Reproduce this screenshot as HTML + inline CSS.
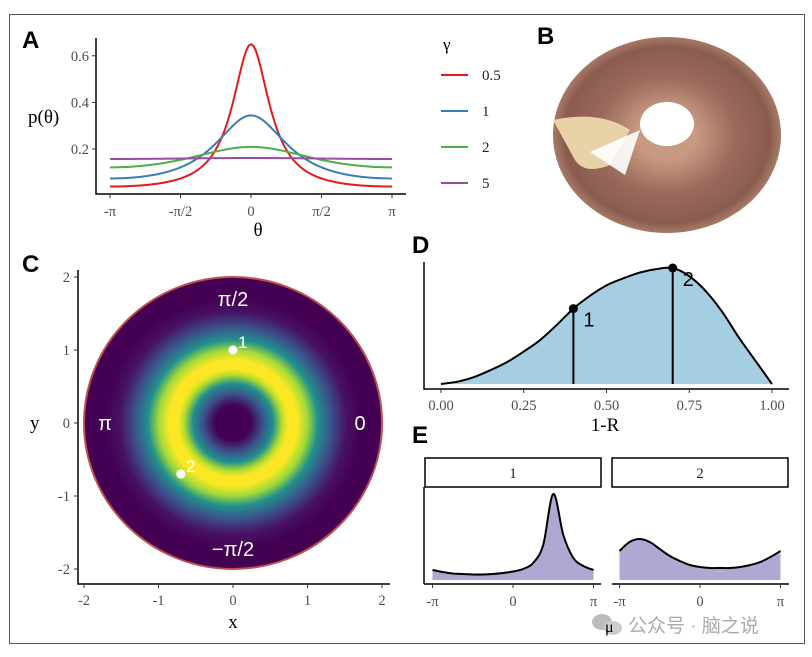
<!DOCTYPE html>
<html><head><meta charset="utf-8"><style>
html,body{margin:0;padding:0;background:#fff;}
svg{display:block;}
.tick{font-family:"Liberation Serif",serif;font-size:14.5px;fill:#4d4d4d;}
.lab{font-family:"Liberation Serif",serif;font-size:19px;fill:#000;}
.pl{font-family:"Liberation Sans",sans-serif;font-weight:bold;font-size:24px;fill:#000;}
</style></head><body>
<svg id="fig" width="812" height="657" viewBox="0 0 812 657" xmlns="http://www.w3.org/2000/svg">
<defs>
<radialGradient id="vir" cx="0.5" cy="0.5" r="0.5">
<stop offset="0" stop-color="#440154"/><stop offset="0.12" stop-color="#440154"/>
<stop offset="0.2" stop-color="#3b528b"/><stop offset="0.27" stop-color="#21908d"/>
<stop offset="0.33" stop-color="#b5de2b"/><stop offset="0.37" stop-color="#fde725"/>
<stop offset="0.43" stop-color="#fde725"/><stop offset="0.5" stop-color="#a0da39"/>
<stop offset="0.57" stop-color="#21918c"/><stop offset="0.66" stop-color="#3b528b"/>
<stop offset="0.76" stop-color="#471365"/><stop offset="0.85" stop-color="#440154"/>
<stop offset="1" stop-color="#440154"/></radialGradient>
<radialGradient id="cake" cx="0.5" cy="0.5" r="0.5">
<stop offset="0.25" stop-color="#c99a82"/><stop offset="0.6" stop-color="#9a6a5c"/>
<stop offset="0.9" stop-color="#8a5c50"/><stop offset="1" stop-color="#a77a66"/></radialGradient>
</defs>
<rect x="9.5" y="14.5" width="795" height="629" fill="none" stroke="#555" stroke-width="1"/>
<text class="pl" x="22" y="48">A</text>
<text class="pl" x="537" y="44">B</text>
<text class="pl" x="22" y="272">C</text>
<text class="pl" x="412" y="253">D</text>
<text class="pl" x="412" y="443">E</text>

<g id="pa"></g>
<g>
<ellipse cx="667" cy="135" rx="114" ry="98" fill="url(#cake)"/>
<path d="M553 120 Q600 110 630 130 L610 165 Q585 175 575 160 Z" fill="#e9d2a8"/>
<ellipse cx="667" cy="124" rx="27" ry="22" fill="#fff"/>
<path d="M590 152 L640 130 L625 175 Z" fill="#fff" opacity="0.9"/>
</g>
<g id="pc"></g>
<g id="pd"></g>
<g id="pe"></g>
<g>
<ellipse cx="602" cy="622" rx="10" ry="8" fill="#bbb"/><ellipse cx="613" cy="628" rx="9" ry="7" fill="#ccc"/>
<text x="605" y="632" font-family="Liberation Serif,serif" font-size="16" fill="#000">μ</text>
<text x="628" y="632" font-family="'Liberation Sans','Noto Sans CJK SC',sans-serif" font-size="19" fill="#aaa">公众号 · 脑之说</text>
</g>
</svg>
<script>
const NS="http://www.w3.org/2000/svg";
function mk(p,t,a,txt){const e=document.createElementNS(NS,t);for(const k in a)e.setAttribute(k,a[k]);if(txt!==undefined)e.textContent=txt;p.appendChild(e);return e;}
function spline(pts){let d="M"+pts[0][0]+" "+pts[0][1];for(let i=0;i<pts.length-1;i++){const p0=pts[Math.max(0,i-1)],p1=pts[i],p2=pts[i+1],p3=pts[Math.min(pts.length-1,i+2)];
d+=" C"+(p1[0]+(p2[0]-p0[0])/6)+" "+(p1[1]+(p2[1]-p0[1])/6)+" "+(p2[0]-(p3[0]-p1[0])/6)+" "+(p2[1]-(p3[1]-p1[1])/6)+" "+p2[0]+" "+p2[1];}return d;}

/* ---------- Panel A data ---------- */
const gammas=[0.5,1,2,5];
const gammaLabels=["0.5","1","2","5"];
const gammaColors=["#e41a1c","#377eb8","#4daf4a","#984ea3"];
const aYTicks=[0.2,0.4,0.6];
const aXTickLabels=["-π","-π/2","0","π/2","π"];
const aXTickVals=[-Math.PI,-Math.PI/2,0,Math.PI/2,Math.PI];
(function(){
const g=document.getElementById('pa');
const X=v=>251+v/Math.PI*141, Y=v=>195.6-v*233;
let e=mk(g,'path',{d:"M96 38 V194 H406",fill:"none",stroke:"#000","stroke-width":1.5});

aYTicks.forEach(v=>{mk(g,'line',{x1:92,x2:96,y1:Y(v),y2:Y(v),stroke:"#333"});
e=mk(g,'text',{class:'tick',x:89,y:Y(v)+5,'text-anchor':'end'},v.toFixed(1));
});
aXTickVals.forEach((v,i)=>{mk(g,'line',{x1:X(v),x2:X(v),y1:194,y2:198,stroke:"#333"});
e=mk(g,'text',{class:'tick',x:X(v),y:216,'text-anchor':'middle'},aXTickLabels[i]);
});
e=mk(g,'text',{class:'lab',x:258,y:236,'text-anchor':'middle'},'θ');
e=mk(g,'text',{class:'lab',x:28,y:123},'p(θ)');
gammas.forEach((gm,i)=>{const r=Math.exp(-gm);const pts=[];
for(let k=0;k<=120;k++){const t=-Math.PI+k*2*Math.PI/120;const p=(1-r*r)/(2*Math.PI*(1+r*r-2*r*Math.cos(t)));pts.push(X(t).toFixed(2)+","+Y(p).toFixed(2));}
e=mk(g,'polyline',{points:pts.join(" "),fill:"none",stroke:gammaColors[i],"stroke-width":2});

const ly=75+36*i;
e=mk(g,'line',{x1:441,x2:468,y1:ly,y2:ly,stroke:gammaColors[i],"stroke-width":2});

e=mk(g,'text',{class:'tick',x:482,y:ly+5,style:'font-size:15px;fill:#222'},gammaLabels[i]);
});
e=mk(g,'text',{class:'lab',x:443,y:50,style:'font-size:17px'},'γ');
})();

/* ---------- Panel C data ---------- */
const cTicks=[-2,-1,0,1,2];
const cPointsX=[0,-0.7];
const cPointsY=[1,-0.7];
const cPointLabels=["1","2"];
(function(){
const g=document.getElementById('pc');
const X=v=>233+v*74.5, Y=v=>423-v*73;
let e=mk(g,'ellipse',{cx:X(0),cy:Y(0),rx:X(2)-X(0),ry:Y(0)-Y(2),fill:"url(#vir)",stroke:"#c0504d","stroke-width":2});

e=mk(g,'path',{d:"M78 270 V584 H390",fill:"none",stroke:"#000","stroke-width":1.5});

cTicks.forEach(v=>{mk(g,'line',{x1:X(v),x2:X(v),y1:584,y2:588,stroke:"#333"});
e=mk(g,'text',{class:'tick',x:X(v),y:605,'text-anchor':'middle'},v);
mk(g,'line',{x1:74,x2:78,y1:Y(v),y2:Y(v),stroke:"#333"});
e=mk(g,'text',{class:'tick',x:70,y:Y(v)+5,'text-anchor':'end'},v);});
e=mk(g,'text',{class:'lab',x:233,y:628,'text-anchor':'middle'},'x');
e=mk(g,'text',{class:'lab',x:30,y:429},'y');
[["π/2",233,306],["π",105,430],["0",360,430],["−π/2",233,556]].forEach(a=>{
e=mk(g,'text',{x:a[1],y:a[2],'text-anchor':'middle','font-family':'Liberation Sans,sans-serif','font-size':20,fill:'#fff'},a[0]);
});
cPointsX.forEach((v,i)=>{e=mk(g,'circle',{cx:X(v),cy:Y(cPointsY[i]),r:4.5,fill:'#fff'});

e=mk(g,'text',{x:X(v)+5,y:Y(cPointsY[i])-2,'font-family':'Liberation Sans,sans-serif','font-size':17,fill:'#fff'},cPointLabels[i]);
});
})();

/* ---------- Panel D data ---------- */
const dX=[0,0.05,0.1,0.15,0.2,0.25,0.3,0.35,0.4,0.45,0.5,0.55,0.6,0.65,0.7,0.75,0.8,0.85,0.9,0.95,1];
const dDensity=[0,0.02,0.06,0.12,0.19,0.28,0.38,0.51,0.65,0.76,0.85,0.91,0.96,0.99,1.0,0.93,0.8,0.62,0.4,0.2,0];
const dMarkX=[0.4,0.7];
const dMarkDensity=[0.65,1.0];
const dMarkLabels=["1","2"];
const dTickVals=[0,0.25,0.5,0.75,1];
const dTickLabels=["0.00","0.25","0.50","0.75","1.00"];
(function(){
const g=document.getElementById('pd');
const X=v=>441+v*331, Y=v=>384-v*116;
const pts=dX.map((v,i)=>[X(v),Y(dDensity[i])]);
const d=spline(pts);
let e=mk(g,'path',{d:d+" L"+X(1)+" 384 L"+X(0)+" 384 Z",fill:"#a6cee3"});

e=mk(g,'path',{d:d,fill:"none",stroke:"#000","stroke-width":2});

dMarkX.forEach((v,i)=>{e=mk(g,'line',{x1:X(v),x2:X(v),y1:384,y2:Y(dMarkDensity[i]),stroke:'#000','stroke-width':2});

e=mk(g,'circle',{cx:X(v),cy:Y(dMarkDensity[i]),r:4.5,fill:'#000'});
e=mk(g,'text',{x:X(v)+10,y:Y(dMarkDensity[i])+18,'font-family':'Liberation Sans,sans-serif','font-size':20,fill:'#000'},dMarkLabels[i]);
});
e=mk(g,'path',{d:"M424 262 V389 H789",fill:"none",stroke:"#000","stroke-width":1.5});

dTickVals.forEach((v,i)=>{mk(g,'line',{x1:X(v),x2:X(v),y1:389,y2:393,stroke:'#333'});
e=mk(g,'text',{class:'tick',x:X(v),y:410,'text-anchor':'middle'},dTickLabels[i]);});
e=mk(g,'text',{class:'lab',x:605,y:431,'text-anchor':'middle'},'1-R');
})();

/* ---------- Panel E data ---------- */
const eMuSteps=[-8,-7,-6,-5,-4,-3,-2,-1,0,1,2,3,4,5,6,7,8]; /* mu = step*pi/8 */
const eFacet1=[10,8,6.5,6,5.5,5.5,6,7,8.5,11,17,35,86,45,22,14,10];
const eFacet2=[29,38,41,38,31,24,19,15,13,12,12,12,13,15,18,23,29];
const eFacetLabels=["1","2"];
const eTickLabels=["-π","0","π"];
(function(){
const g=document.getElementById('pe');
const facets=[{x0:424,zero:513,data:eFacet1,sx:425,sw:176},{x0:612,zero:700,data:eFacet2,sx:612,sw:176}];
facets.forEach((f,fi)=>{
const X=s=>f.zero+s/8*80.5, Y=v=>580-v;
let e=mk(g,'rect',{x:f.sx,y:458,width:f.sw,height:29,fill:'#fff',stroke:'#000','stroke-width':1.5});

e=mk(g,'text',{class:'tick',x:f.sx+f.sw/2,y:478,'text-anchor':'middle',style:'fill:#222;font-size:15px'},eFacetLabels[fi]);

const pts=eMuSteps.map((s,i)=>[X(s),Y(f.data[i])]);const d=spline(pts);
e=mk(g,'path',{d:d+" L"+X(8)+" 580 L"+X(-8)+" 580 Z",fill:'#b0a8d2'});
e=mk(g,'path',{d:d,fill:'none',stroke:'#000','stroke-width':2});
e=mk(g,'line',{x1:f.x0,x2:f.x0+177,y1:584,y2:584,stroke:'#000','stroke-width':1.5});
[-8,0,8].forEach((s,i)=>{mk(g,'line',{x1:X(s),x2:X(s),y1:584,y2:588,stroke:'#333'});
e=mk(g,'text',{class:'tick',x:X(s),y:606,'text-anchor':'middle'},eTickLabels[i]);});
});
let e=mk(g,'line',{x1:424,x2:424,y1:487,y2:584,stroke:'#000','stroke-width':1.5});
})();
</script>
</body></html>
